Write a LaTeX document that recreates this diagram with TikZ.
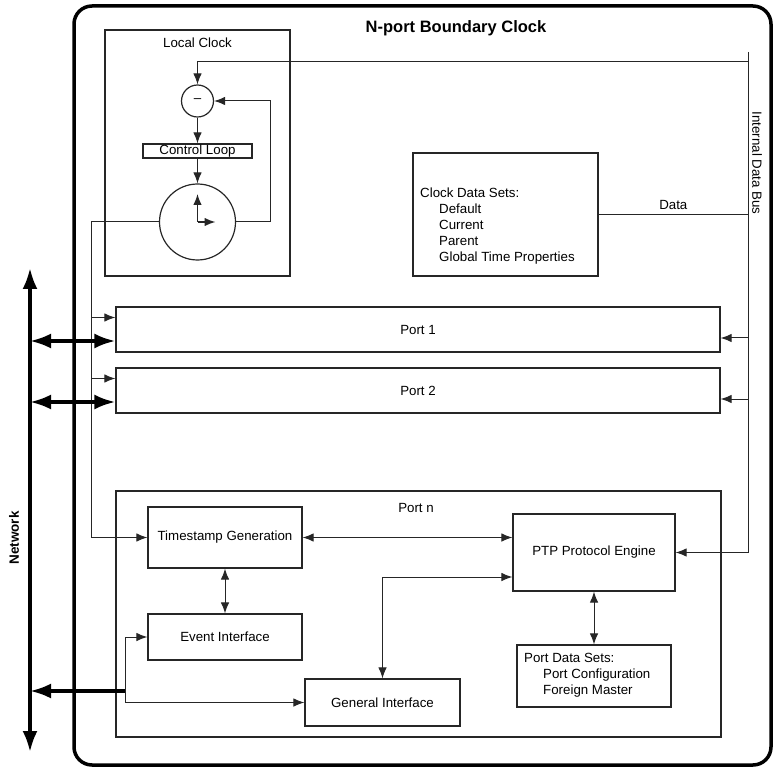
\documentclass[tikz,border=0pt]{standalone}
\usepackage{fontspec}
\setmainfont{Liberation Sans}
\usetikzlibrary{arrows.meta, positioning, calc}

\begin{document}
\begin{tikzpicture}[x=1pt, y=-1pt,
  font=\fontsize{13.3}{16}\selectfont,
  >={Latex[length=11pt,width=8.5pt]},
  bigtip/.tip={Latex[length=21pt,width=15pt]},
  box/.style={draw=black!85, line width=1.2pt, inner sep=0pt},
  link/.style={draw=black!85, line width=1pt},
  netlink/.style={draw=black, line width=3.5pt},
  txt/.style={inner sep=0pt}]
  \useasboundingbox (0,0) rectangle (774,767);

  % Frame
  \node[draw, line width=3.5pt, rounded corners=18pt, minimum width=697pt, minimum height=759pt] (frame) at (422.5,385.5) {};
  \node[txt, font=\fontsize{16.5}{20}\selectfont\bfseries] (title) at (456,28) {N-port Boundary Clock};

  % Local clock
  \node[box, minimum width=185pt, minimum height=246pt] (lclk) at (197.5,153) {};
  \node[txt] (lclklbl) at (197.5,43) {Local Clock};
  \node[box, circle, minimum size=32pt] (sub) at (197.5,101) {\textendash};
  \node[box, minimum width=109pt, minimum height=14pt] (ctrl) at (197.5,151) {\raisebox{-1pt}{Control Loop}};
  \node[box, circle, minimum size=76pt] (osc) at (197.5,222) {};
  \draw[link, line width=1.4pt, ->] (osc.center) -- ++(0,-28);
  \draw[link, line width=1.4pt, ->] (osc.center) -- ++(18,0);

  % Clock data sets
  \node[box, minimum width=185pt, minimum height=123pt] (cds) at (505.5,214.5) {};
  \node[txt, anchor=west, align=left] (cdstxt) at (420,226) {Clock Data Sets:\\
    \hspace*{19pt}Default\\ \hspace*{19pt}Current\\ \hspace*{19pt}Parent\\
    \hspace*{19pt}Global Time Properties};

  % Bus
  \coordinate (bustop) at (748,52);
  \coordinate (busclk) at (748,62);
  \node[txt, rotate=-90] (buslbl) at (757,163) {Internal Data Bus};

  % Ports
  \node[box, minimum width=604pt, minimum height=45pt] (port1) at (418,329.5) {Port 1};
  \node[box, minimum width=604pt, minimum height=45pt] (port2) at (418,390.5) {Port 2};
  \node[box, minimum width=605pt, minimum height=246pt] (portn) at (418.5,614) {};
  \node[txt] (portnlbl) at (416,508) {Port n};

  % Port n blocks
  \node[box, minimum width=154pt, minimum height=61pt] (ts) at (225,537.5) {Timestamp Generation};
  \node[box, minimum width=154pt, minimum height=46pt] (ev) at (225,637) {Event Interface};
  \node[box, minimum width=155pt, minimum height=47pt] (gi) at (382.5,702.5) {General Interface};
  \node[box, minimum width=162pt, minimum height=77pt] (ptp) at (594,552.5) {PTP Protocol Engine};
  \node[box, minimum width=154pt, minimum height=62pt] (pds) at (594,676) {};
  \node[txt, anchor=west, align=left] (pdstxt) at (524,675) {Port Data Sets:\\
    \hspace*{19pt}Port Configuration\\ \hspace*{19pt}Foreign Master};

  % Network
  \coordinate (nettop) at (30,268);
  \coordinate (netbot) at (30,752);
  \draw[netlink, arrows=bigtip-bigtip] (nettop) -- (netbot);
  \node[txt, rotate=90, font=\fontsize{13.5}{16}\selectfont\bfseries] (netlbl) at (14,538) {Network};

  % Control loop
  \draw[link, ->] (busclk) -| (sub.north);
  \draw[link, ->] (sub) -- (ctrl);
  \draw[link, ->] (ctrl) -- (osc);
  \draw[link, ->] (osc.east) -- ++(34,0) |- (sub.east);

  % Data bus links
  \draw[link] (cds.east) -- (cds.east -| bustop) node[txt, midway, above=4pt] (datalbl) {Data};
  \draw[link, ->] (bustop) |- (ptp.east);
  \foreach \p in {port1,port2} {
    \coordinate (\p-bus) at ($(\p.east)+(0,8.5)$);
    \draw[link, ->] (bustop |- \p-bus) -- (\p-bus);
  }

  % Clock output to ports
  \coordinate (tapx) at (91,537.5);
  \draw[link, ->] (osc.west) -| (tapx) -- (ts.west);
  \foreach \p in {port1,port2} {
    \coordinate (\p-in) at ($(\p.west)+(0,-12)$);
    \draw[link, ->] (tapx |- \p-in) -- (\p-in);
    \coordinate (\p-net) at ($(\p.west)+(0,11.5)$);
    \draw[netlink, arrows=bigtip-bigtip] (nettop |- \p-net) -- (\p-net);
  }

  % Inside port n
  \draw[link, <->] (ts.east) -- (ts.east -| ptp.west);
  \draw[link, <->] (ts) -- (ev);
  \draw[link, <->] (ptp) -- (pds);
  \coordinate (ptpgi) at ($(ptp.west)+(0,24.5)$);
  \draw[link, <->] (gi.north) |- (ptpgi);
  \coordinate (gijoin) at (125,691);
  \draw[netlink, arrows=-bigtip] (gijoin) -- (gijoin -| nettop);
  \draw[link, ->] (gijoin) |- (ev.west);
  \draw[link, ->] (gijoin) |- (gi.west);
\end{tikzpicture}
\end{document}
